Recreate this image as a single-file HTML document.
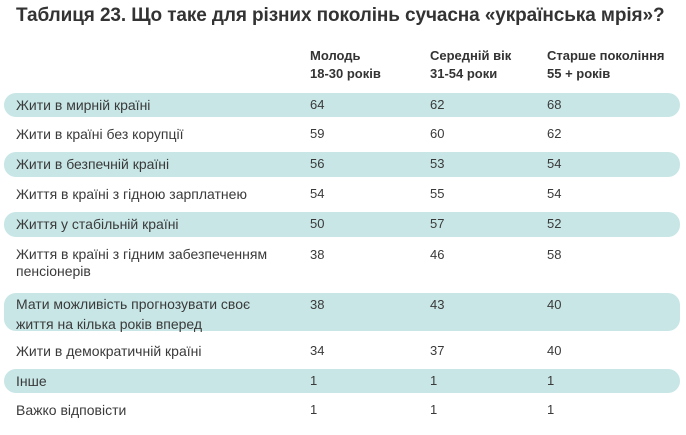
<!DOCTYPE html>
<html><head><meta charset="utf-8"><style>
body{margin:0;width:686px;height:435px;background:#fff;font-family:"Liberation Sans",sans-serif;color:#3a3a3a;position:relative;overflow:hidden}
.t{position:absolute;white-space:nowrap;font-size:13px;line-height:16px}
.l{font-size:14px}
.band{position:absolute;left:4px;width:676px;background:#c8e6e6;border-radius:12px}
.h{font-weight:bold;font-size:13px;color:#333}
</style></head><body>
<div class="t" style="left:16px;top:5px;font-size:19px;line-height:22px;font-weight:bold;color:#333;letter-spacing:-0.1px">Таблиця 23. Що таке для різних поколінь сучасна «українська мрія»?</div>
<div class="t h" style="left:310px;top:47px;line-height:18px">Молодь<br>18-30 років</div>
<div class="t h" style="left:430px;top:47px;line-height:18px">Середній вік<br>31-54 роки</div>
<div class="t h" style="left:547px;top:47px;line-height:18px">Старше покоління<br>55 + років</div>

<div class="band" style="top:93px;height:24px"></div>
<div class="band" style="top:152px;height:25px"></div>
<div class="band" style="top:212px;height:25px"></div>
<div class="band" style="top:293px;height:38px"></div>
<div class="band" style="top:369px;height:24px"></div>

<div class="t l" style="left:16px;top:97px">Жити в мирній країні</div>
<div class="t" style="left:310px;top:97px">64</div><div class="t" style="left:430px;top:97px">62</div><div class="t" style="left:547px;top:97px">68</div>

<div class="t l" style="left:16px;top:126px">Жити в країні без корупції</div>
<div class="t" style="left:310px;top:126px">59</div><div class="t" style="left:430px;top:126px">60</div><div class="t" style="left:547px;top:126px">62</div>

<div class="t l" style="left:16px;top:156px">Жити в безпечній країні</div>
<div class="t" style="left:310px;top:156px">56</div><div class="t" style="left:430px;top:156px">53</div><div class="t" style="left:547px;top:156px">54</div>

<div class="t l" style="left:16px;top:186px">Життя в країні з гідною зарплатнею</div>
<div class="t" style="left:310px;top:186px">54</div><div class="t" style="left:430px;top:186px">55</div><div class="t" style="left:547px;top:186px">54</div>

<div class="t l" style="left:16px;top:216px">Життя у стабільній країні</div>
<div class="t" style="left:310px;top:216px">50</div><div class="t" style="left:430px;top:216px">57</div><div class="t" style="left:547px;top:216px">52</div>

<div class="t l" style="left:16px;top:246px;line-height:17px">Життя в країні з гідним забезпеченням<br>пенсіонерів</div>
<div class="t" style="left:310px;top:247px">38</div><div class="t" style="left:430px;top:247px">46</div><div class="t" style="left:547px;top:247px">58</div>

<div class="t l" style="left:16px;top:294px;line-height:20px">Мати можливість прогнозувати своє<br>життя на кілька років вперед</div>
<div class="t" style="left:310px;top:297px">38</div><div class="t" style="left:430px;top:297px">43</div><div class="t" style="left:547px;top:297px">40</div>

<div class="t l" style="left:16px;top:343px">Жити в демократичній країні</div>
<div class="t" style="left:310px;top:343px">34</div><div class="t" style="left:430px;top:343px">37</div><div class="t" style="left:547px;top:343px">40</div>

<div class="t l" style="left:16px;top:373px">Інше</div>
<div class="t" style="left:310px;top:373px">1</div><div class="t" style="left:430px;top:373px">1</div><div class="t" style="left:547px;top:373px">1</div>

<div class="t l" style="left:16px;top:402px">Важко відповісти</div>
<div class="t" style="left:310px;top:402px">1</div><div class="t" style="left:430px;top:402px">1</div><div class="t" style="left:547px;top:402px">1</div>
</body></html>
